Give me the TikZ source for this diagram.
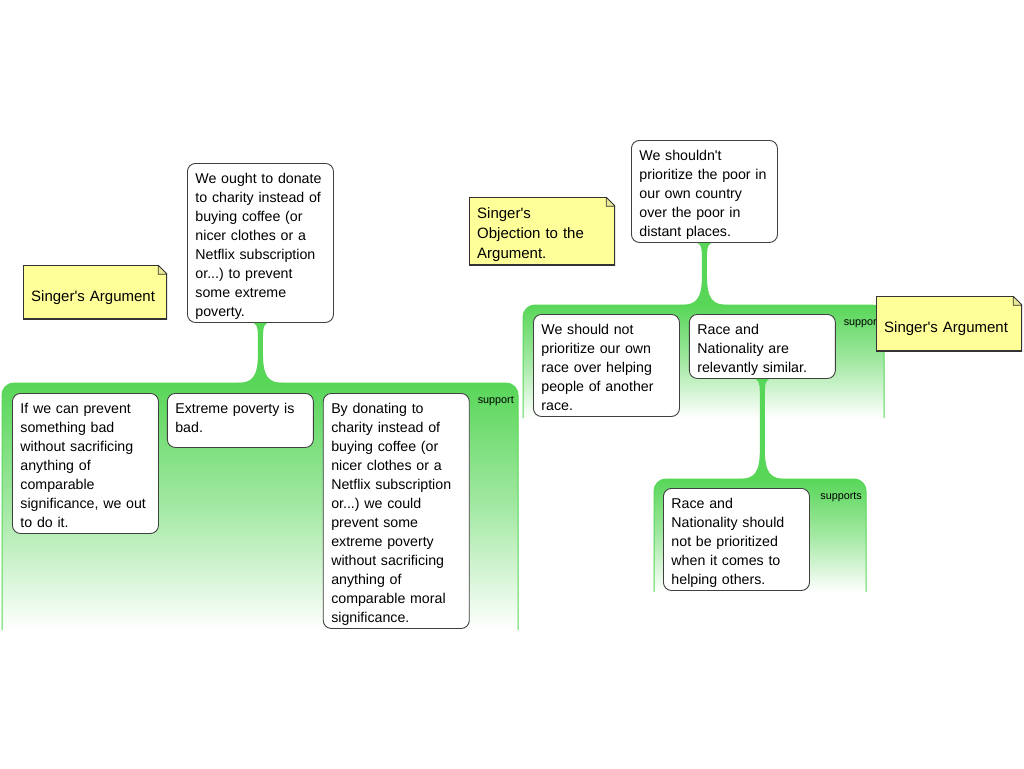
\documentclass[tikz,border=0pt]{standalone}
\usepackage{fontspec}
\setmainfont{Liberation Sans}
\usepackage{tikz}
\usetikzlibrary{positioning}
\usetikzlibrary{calc}
\definecolor{grpgreen}{RGB}{88,214,88}
\definecolor{notefill}{RGB}{255,255,153}
\definecolor{foldfill}{RGB}{232,232,150}
\newcommand{\boxfont}{\fontsize{14.2}{19}\selectfont}
\newcommand{\notefont}{\fontsize{15}{20}\selectfont}
\newcommand{\labfont}{\fontsize{10.8}{12}\selectfont}
\frenchspacing
\tikzstyle{claim} = [draw=black!75, line width=0.9pt, fill=white, rounded corners=8pt, text width=130pt, inner xsep=8pt, inner ysep=3pt, align=left, font=\boxfont, anchor=north west, execute at begin node={\rule{0pt}{17pt}}, execute at end node={\rule[-3pt]{0pt}{0pt}}]
\tikzstyle{grplabel} = [font=\labfont, inner sep=0pt]
\tikzset{stickynote/.style 2 args={fill=notefill, font=\notefont, align=left, anchor=north west, inner xsep=8pt, inner ysep=0pt, execute at begin node={\rule{0pt}{#1}}, execute at end node={\rule[-#2]{0pt}{0pt}},
  path picture={
    \fill[white] ([xshift=-9pt]path picture bounding box.north east) -- (path picture bounding box.north east) -- ([yshift=-9pt]path picture bounding box.north east) -- cycle;
    \draw[black!80, line width=1.8pt] ([yshift=-9pt]path picture bounding box.north east) -- (path picture bounding box.south east) -- (path picture bounding box.south west) -- (path picture bounding box.north west) -- ([xshift=-9pt]path picture bounding box.north east);
    \filldraw[fill=foldfill, draw=black!80, line width=0.9pt, line join=round] ([xshift=-9pt]path picture bounding box.north east) -- ([xshift=-9pt,yshift=-9pt]path picture bounding box.north east) -- ([yshift=-9pt]path picture bounding box.north east) -- cycle;}}}
\newcommand{\supportgroup}[6]{%
  \shade[top color=grpgreen, bottom color=white, middle color=grpgreen!55] (#2,#5) [rounded corners=12pt] -- (#2,#4) -- (#3,#4) [sharp corners] -- (#3,#5) -- cycle;
  \draw[grpgreen, line width=1pt] (#2,#5) [rounded corners=12pt] -- (#2,#4) -- (#3,#4) [sharp corners] -- (#3,#5);
  \coordinate (#1) at (#2,#4);
  \node[grplabel, anchor=base east] (#1-lab) at (#3-4,#4+20) {#6};}
\newcommand{\stemlink}[2]{%
  \fill[grpgreen] let \p1=(#1.south), \p2=(#2) in
    (\x1-7pt,\y1) .. controls (\x1-3pt,\y1-3pt) .. (\x1-2.5pt,\y1-14pt)
    -- (\x1-2.5pt,\y2+30pt) .. controls (\x1-2.5pt,\y2+6pt) and (\x1-8pt,\y2) .. (\x1-24pt,\y2)
    -- (\x1-24pt,\y2-1pt) -- (\x1+24pt,\y2-1pt) -- (\x1+24pt,\y2)
    .. controls (\x1+8pt,\y2) and (\x1+2.5pt,\y2+6pt) .. (\x1+2.5pt,\y2+30pt)
    -- (\x1+2.5pt,\y1-14pt) .. controls (\x1+3pt,\y1-3pt) .. (\x1+7pt,\y1) -- cycle;}
\begin{document}
\begin{tikzpicture}[x=1pt, y=-1pt]
\useasboundingbox (0,0) rectangle (1024,768);
\supportgroup{grpA}{2}{518}{383}{630}{support}
\supportgroup{grpB}{523}{884}{305}{418}{support}
\supportgroup{grpC}{654}{866}{479}{592}{supports}

\node[claim] (donate) at (187,163) {We ought to donate\\ to charity instead of\\ buying coffee (or\\ nicer clothes or a\\ Netflix subscription\\ or...) to prevent\\ some extreme\\ poverty.};
\node[claim] (prevent) at (12,393) {If we can prevent\\ something bad\\ without sacrificing\\ anything of\\ comparable\\ significance, we out\\ to do it.};
\node[claim, below right=0pt and 8pt of prevent.north east, execute at end node={\rule[-12pt]{0pt}{0pt}}] (badpov) {Extreme poverty is\\ bad.};
\node[claim, below right=0pt and 9pt of badpov.north east] (bydonate) {By donating to\\ charity instead of\\ buying coffee (or\\ nicer clothes or a\\ Netflix subscription\\ or...) we could\\ prevent some\\ extreme poverty\\ without sacrificing\\ anything of\\ comparable moral\\ significance.};

\node[claim] (notprio) at (631,140) {We shouldn\textquotesingle t\\ prioritize the poor in\\ our own country\\ over the poor in\\ distant places.};
\node[claim] (ownrace) at (533,314) {We should not\\ prioritize our own\\ race over helping\\ people of another\\ race.};
\node[claim, below right=0pt and 9pt of ownrace.north east] (similar) {Race and\\ Nationality are\\ relevantly similar.};
\node[claim] (noprio) at (663,488) {Race and\\ Nationality should\\ not be prioritized\\ when it comes to\\ helping others.};

\stemlink{donate}{grpA}
\stemlink{notprio}{grpB}
\stemlink{similar}{grpC}

\node[stickynote={36pt}{18pt}, text width=128pt] (argnoteA) at (23,265) {Singer\textquotesingle s Argument};
\node[stickynote={21.5pt}{6.5pt}, text width=130pt] (objnote) at (469,197) {Singer\textquotesingle s\\ Objection to the\\ Argument.};
\node[stickynote={36pt}{19pt}, text width=130pt] (argnoteB) at (876,296) {Singer\textquotesingle s Argument};
\end{tikzpicture}
\end{document}
